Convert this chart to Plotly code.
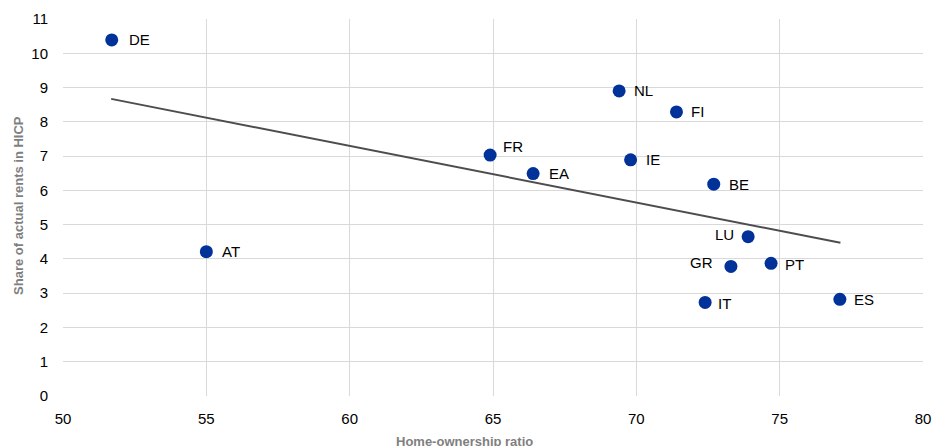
import plotly.graph_objects as go

countries = ["DE", "AT", "FR", "EA", "NL", "FI", "IE", "BE", "LU", "GR", "PT", "IT", "ES"]
home_ownership = [51.7, 55.0, 64.9, 66.4, 69.4, 71.4, 69.8, 72.7, 73.9, 73.3, 74.7, 72.4, 77.1]
rent_share = [10.39, 4.21, 7.03, 6.49, 8.90, 8.29, 6.89, 6.18, 4.65, 3.78, 3.87, 2.73, 2.82]

trend_x = [51.68, 77.12]
trend_y = [8.67, 4.47]

# label offsets in pixels (style only)
offsets = {
    "DE": (15, 0, "left"), "AT": (14, 0, "left"), "FR": (11, 9, "left"),
    "EA": (14, 0, "left"), "NL": (13, 0, "left"), "FI": (13, 0, "left"),
    "IE": (13, 0, "left"), "BE": (13, 0, "left"), "LU": (-12, 2, "right"),
    "GR": (-16, 4, "right"), "PT": (12, -1, "left"), "IT": (11, -1, "left"),
    "ES": (12, 0, "left"),
}

FONT = "Liberation Sans, Arial"

fig = go.Figure()
fig.add_trace(go.Scatter(x=trend_x, y=trend_y, mode="lines",
                         line=dict(color="#4d4d4d", width=2), hoverinfo="skip",
                         showlegend=False))
fig.add_trace(go.Scatter(x=home_ownership, y=rent_share, mode="markers",
                         marker=dict(color="#003299", size=13, line=dict(width=0)),
                         showlegend=False))

for c, x, y in zip(countries, home_ownership, rent_share):
    dx, dy, anchor = offsets[c]
    fig.add_annotation(x=x, y=y, text=c, showarrow=False, xanchor=anchor,
                       yanchor="middle", xshift=dx, yshift=dy,
                       font=dict(family=FONT, size=15, color="#000000"))

fig.add_annotation(xref="paper", yref="paper", x=0.467, y=-0.122, yanchor="middle",
                   text="<b>Home-ownership ratio</b>", showarrow=False,
                   font=dict(family=FONT, size=13, color="#7f7f7f"))
fig.add_annotation(xref="paper", yref="paper", x=-0.052, y=0.505, xanchor="center",
                   yanchor="middle", textangle=-90,
                   text="<b>Share of actual rents in HICP</b>", showarrow=False,
                   font=dict(family=FONT, size=13, color="#7f7f7f"))

fig.update_layout(
    width=933, height=446,
    margin=dict(l=63, r=10, t=19, b=50),
    plot_bgcolor="white", paper_bgcolor="white",
    font=dict(family=FONT, size=15, color="#000000"),
    xaxis=dict(range=[50, 80], dtick=5, showgrid=True, gridcolor="#d9d9d9", gridwidth=1,
               zeroline=False, showline=False, ticks="outside", ticklen=9,
               tickcolor="rgba(0,0,0,0)", tickfont=dict(size=15), automargin=False),
    yaxis=dict(range=[0, 11], dtick=1, showgrid=True, gridcolor="#d9d9d9", gridwidth=1,
               zeroline=False, showline=False, ticks="outside", ticklen=11,
               tickcolor="rgba(0,0,0,0)", tickfont=dict(size=15), automargin=False),
)

fig.write_html("out.html", config={"displayModeBar": False},
               post_script="document.body.style.margin='0';document.body.style.overflow='hidden';")
